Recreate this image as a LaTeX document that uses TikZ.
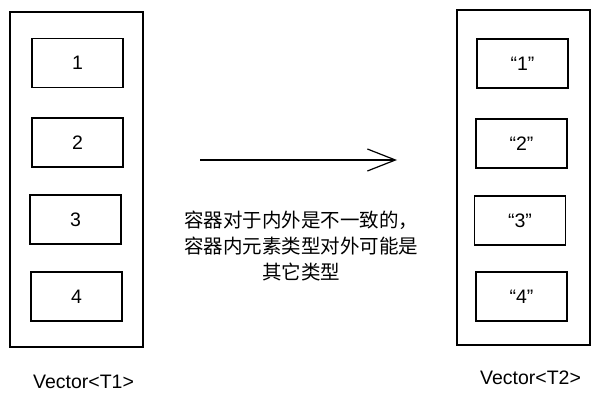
\documentclass[tikz,border=0pt]{standalone}
\usepackage{fontspec}
\setmainfont{Liberation Sans}
\newfontfamily\cjk{Noto Sans CJK SC}
\usetikzlibrary{arrows.meta}

\tikzset{
	vecbox/.style={draw, line width=1.2pt, minimum width=133pt, minimum height=335pt, inner sep=0pt},
	elem/.style={draw, line width=1.2pt, minimum width=91pt, minimum height=49pt, inner sep=0pt, font=\fontsize{19.5}{23}\selectfont},
	veclabel/.style={font=\fontsize{19.5}{23}\selectfont}
}

\begin{document}
\begin{tikzpicture}[x=1pt, y=-1pt]
	\useasboundingbox (0,0) rectangle (600,404);
	%left vector
	\node[vecbox] (vleft) at (76.5,179.5) {};
	\node[elem] (l1) at (77.5,63) {1};
	\node[elem] (l2) at (77.5,142.5) {2};
	\node[elem] (l3) at (75.5,219.5) {3};
	\node[elem] (l4) at (76.5,296.5) {4};
	\node[veclabel] (tleft) at (83.5,382) {Vector<T1>};
	%right vector
	\node[vecbox] (vright) at (523.5,177.5) {};
	\node[elem] (r1) at (522.5,63.5) {“1”};
	\node[elem] (r2) at (521.5,143.5) {“2”};
	\node[elem] (r3) at (520,220.5) {“3”};
	\node[elem] (r4) at (521.5,296.5) {“4”};
	\node[veclabel] (tright) at (530.5,378) {Vector<T2>};
	%arrow
	\coordinate (a0) at (200,160);
	\coordinate (a1) at (397,160);
	\draw[line width=1.2pt, -{Straight Barb[length=28pt, width=22pt]}] (a0) -- (a1);
	%note
	\node[align=center, font=\cjk\fontsize{19.5}{26}\selectfont] (note) at (301,246) {容器对于内外是不一致的，\\容器内元素类型对外可能是\\其它类型};
\end{tikzpicture}
\end{document}
